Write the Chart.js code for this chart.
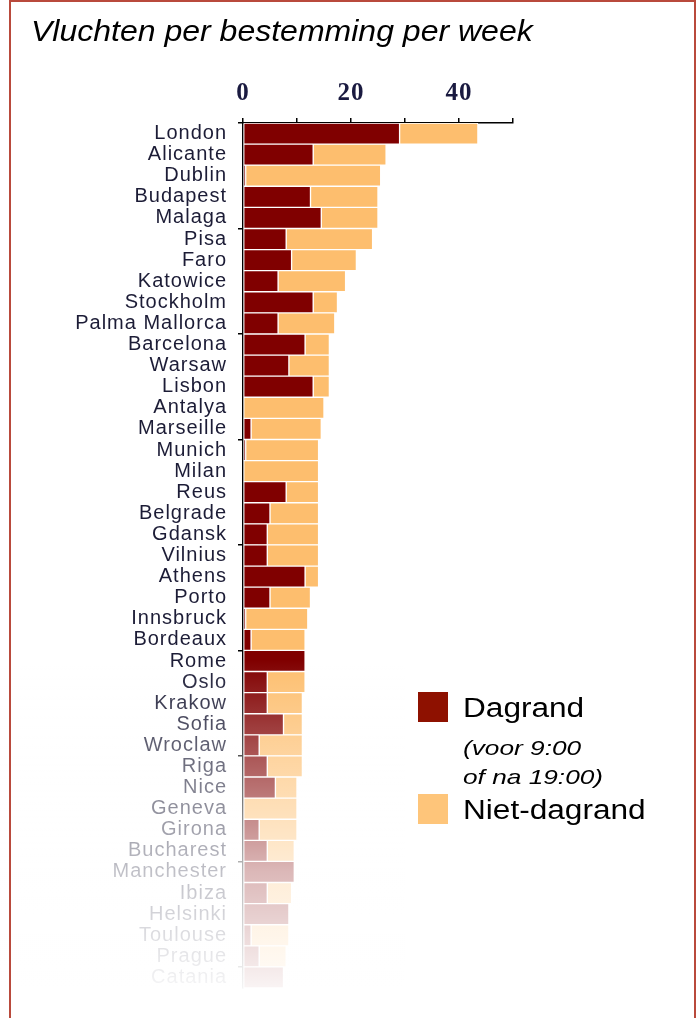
<!DOCTYPE html>
<html>
<head>
<meta charset="utf-8">
<script src="https://cdn.jsdelivr.net/npm/chart.js@4.4.1/dist/chart.umd.min.js"></script>
<style>
  body { margin: 0; background: #fff; }
  #wrap { position: relative; width: 698px; height: 1018px; overflow: hidden; font-family: "Liberation Sans", Arial, sans-serif; }
  #frame { position: absolute; left: 9px; top: 0; width: 683px; height: 1040px; border: 2px solid #b94a3c; pointer-events: none; }
  #chart { position: absolute; left: 0; top: 0; }
  .txt { position: absolute; line-height: 1; color: #000; white-space: nowrap; transform-origin: left center; }
  .sw { position: absolute; width: 30px; height: 30px; }
</style>
</head>
<body>
<div id="wrap">
  <canvas id="chart" width="698" height="1018"></canvas>
  <div class="txt" style="left:31px; top:16px; font-size:29.5px; font-style:italic; transform:scaleX(1.085);">Vluchten per bestemming per week</div>
  <div class="sw" style="left:418px; top:692px; background:#8e1100;"></div>
  <div class="txt" style="left:463px; top:695px; font-size:27px; transform:scaleX(1.17);">Dagrand</div>
  <div class="txt" style="left:463px; top:737px; font-size:21px; font-style:italic; transform:scaleX(1.25);">(voor 9:00</div>
  <div class="txt" style="left:463px; top:766px; font-size:21px; font-style:italic; transform:scaleX(1.25);">of na 19:00)</div>
  <div class="sw" style="left:418px; top:794px; background:#fec57a;"></div>
  <div class="txt" style="left:463px; top:797px; font-size:27px; transform:scaleX(1.17);">Niet-dagrand</div>
  <div id="frame"></div>
</div>
<script>
// bestemmingen, van boven naar beneden
const bestemmingen = ["London", "Alicante", "Dublin", "Budapest", "Malaga", "Pisa", "Faro", "Katowice",
  "Stockholm", "Palma Mallorca", "Barcelona", "Warsaw", "Lisbon", "Antalya", "Marseille", "Munich",
  "Milan", "Reus", "Belgrade", "Gdansk", "Vilnius", "Athens", "Porto", "Innsbruck", "Bordeaux",
  "Rome", "Oslo", "Krakow", "Sofia", "Wroclaw", "Riga", "Nice", "Geneva", "Girona", "Bucharest",
  "Manchester", "Ibiza", "Helsinki", "Toulouse", "Prague", "Catania"];

// vluchten per week
const dagrand = [29, 13, 0.5, 12.5, 14.5, 8, 9, 6.5, 13, 6.5, 11.5, 8.5, 13, 0, 1.5, 0.5, 0, 8, 5, 4.5,
  4.5, 11.5, 5, 0.5, 1.5, 11.5, 4.5, 4.5, 7.5, 3, 4.5, 6, 0, 3, 4.5, 9.5, 4.5, 8.5, 1.5, 3, 7.5];
const nietDagrand = [14.5, 13.5, 25, 12.5, 10.5, 16, 12, 12.5, 4.5, 10.5, 4.5, 7.5, 3, 15, 13, 13.5, 14, 6, 9, 9.5,
  9.5, 2.5, 7.5, 11.5, 10, 0, 7, 6.5, 3.5, 8, 6.5, 4, 10, 7, 5, 0, 4.5, 0, 7, 5, 0];

const asLabels = [0, 20, 40];

const fontFam = '"Liberation Sans", Arial, sans-serif';

// witte vervaging onderaan (labels en balken)
const vervaging = {
  id: "vervaging",
  beforeDraw(chart) {
    chart.ctx.letterSpacing = "1px";
  },
  afterDraw(chart) {
    const ctx = chart.ctx;
    const g = ctx.createLinearGradient(0, 660, 0, 990);
    g.addColorStop(0, "rgba(255,255,255,0)");
    g.addColorStop(0.3, "rgba(255,255,255,0.35)");
    g.addColorStop(0.64, "rgba(255,255,255,0.72)");
    g.addColorStop(1, "rgba(255,255,255,0.96)");
    ctx.save();
    ctx.fillStyle = g;
    ctx.fillRect(0, 660, 405, 360);
    ctx.restore();
  }
};

new Chart(document.getElementById("chart"), {
  type: "bar",
  data: {
    labels: bestemmingen,
    datasets: [
      {
        label: "Dagrand",
        data: dagrand,
        backgroundColor: "#800000",
        borderColor: "#ffffff",
        borderWidth: 1,
        borderSkipped: false,
        barPercentage: 1,
        categoryPercentage: 1
      },
      {
        label: "Niet-dagrand",
        data: nietDagrand,
        backgroundColor: "#fdbe6e",
        borderColor: "#ffffff",
        borderWidth: 1,
        borderSkipped: false,
        barPercentage: 1,
        categoryPercentage: 1
      }
    ]
  },
  options: {
    indexAxis: "y",
    responsive: false,
    animation: false,
    layout: { padding: { left: 0, right: 185, top: 0, bottom: 30 } },
    plugins: { legend: { display: false }, tooltip: { enabled: false } },
    scales: {
      x: {
        position: "top",
        stacked: true,
        min: 0,
        max: 50,
        z: 1,
        afterFit(s) { s.height = 123; },
        ticks: {
          stepSize: 10,
          padding: 9,
          color: "#1a1a40",
          font: { family: '"Liberation Serif", "Times New Roman", serif', size: 25, weight: "bold" },
          callback: v => asLabels.includes(v) ? v : ""
        },
        grid: { drawOnChartArea: false, tickLength: 5, color: "#000", lineWidth: 1.5 },
        border: { display: true, color: "#000", width: 1.5 }
      },
      y: {
        stacked: true,
        z: 1,
        afterFit(s) { s.width = 243; },
        ticks: {
          autoSkip: false,
          padding: 11,
          color: "#1c1c36",
          font: { family: fontFam, size: 20 }
        },
        grid: {
          drawOnChartArea: false,
          tickLength: 5,
          lineWidth: 1.5,
          color: c => (c.index !== undefined && c.index % 5 === 0) ? "#000" : "rgba(0,0,0,0)"
        },
        border: { display: true, color: "#000", width: 1.5 }
      }
    }
  },
  plugins: [vervaging]
});
</script>
</body>
</html>
